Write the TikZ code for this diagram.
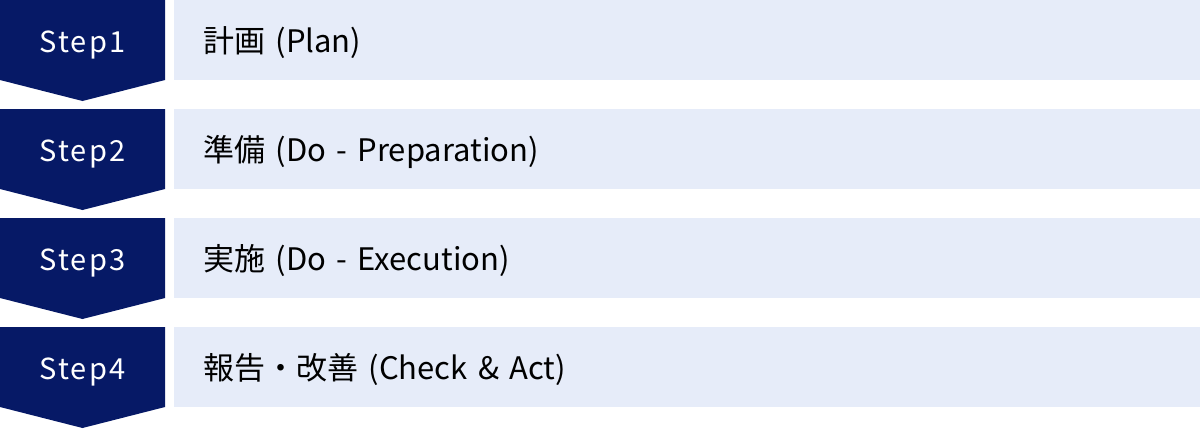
\documentclass[tikz,border=0pt]{standalone}
\usepackage{fontspec}
\setmainfont{Noto Sans CJK JP}
\definecolor{stepnavy}{HTML}{061966}
\definecolor{itemfill}{HTML}{E6ECF9}
\tikzset{
  steplabel/.style={text=white, text height=24pt, text depth=0pt,
    font=\addfontfeatures{LetterSpace=7}\fontsize{29}{34}\selectfont},
  itembox/.style={fill=itemfill, anchor=north west, minimum height=80pt, inner xsep=29pt,
    text width=968pt, align=left, text height=24pt, text depth=0pt, font=\fontsize{31}{36}\selectfont}
}
\begin{document}
\begin{tikzpicture}[x=1pt, y=-1pt]
	\useasboundingbox (0,0) rectangle (1200,429);
	\foreach \i/\txt in {1/{計画 (Plan)}, 2/{準備 (Do - Preparation)}, 3/{実施 (Do - Execution)}, 4/{報告・改善 (Check \& Act)}} {
		\pgfmathsetmacro\rowy{(\i-1)*109}
		\fill[stepnavy] (0,\rowy) -- ++(165,0) -- ++(0,80) -- ++(-82.5,21) -- ++(-82.5,-21) -- cycle;
		\node[steplabel] (step\i) at (82.5,\rowy+40) {Step\i};
		\node[itembox] (item\i) at (174,\rowy) {\txt};
	}
\end{tikzpicture}
\end{document}
